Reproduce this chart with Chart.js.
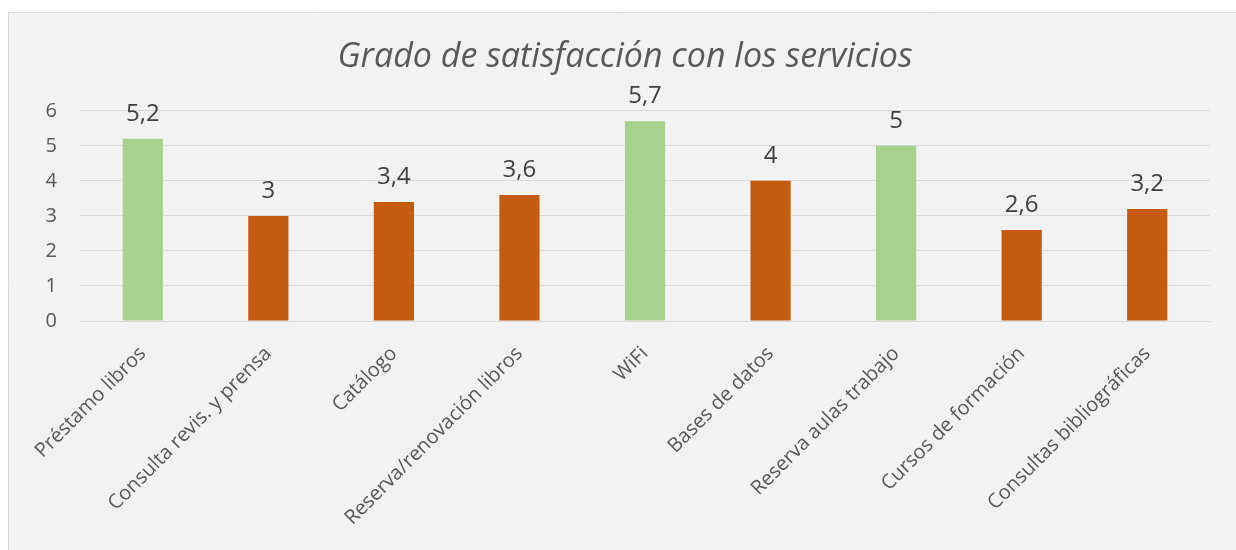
<!DOCTYPE html>
<html>
<head>
<meta charset="utf-8">
<script src="https://cdn.jsdelivr.net/npm/chart.js@4/dist/chart.umd.min.js"></script>
<style>
html,body{margin:0;padding:0;background:#ffffff;}
#wrap{position:relative;width:1236px;height:550px;}
canvas{display:block;}
</style>
</head>
<body>
<div id="wrap"><canvas id="c" width="1236" height="550"></canvas></div>
<script>
const categories = ["Préstamo libros","Consulta revis. y prensa","Catálogo","Reserva/renovación libros","WiFi","Bases de datos","Reserva aulas trabajo","Cursos de formación","Consultas bibliográficas"];
const values = [5.2, 3, 3.4, 3.6, 5.7, 4, 5, 2.6, 3.2];
const barColors = ["#a9d18e","#c55a11","#c55a11","#c55a11","#a9d18e","#c55a11","#a9d18e","#c55a11","#c55a11"];
const yTicks = [0,1,2,3,4,5,6];
const titleText = "Grado de satisfacción con los servicios";

const FONT = "'Open Sans', 'DejaVu Sans', sans-serif";

const frame = {
  id: 'frame',
  beforeDraw(chart) {
    const ctx = chart.ctx;
    ctx.save();
    ctx.fillStyle = '#ffffff';
    ctx.fillRect(0, 0, chart.width, chart.height);
    ctx.fillStyle = '#f2f2f2';
    ctx.fillRect(8, 12, chart.width - 8, chart.height - 12);
    ctx.strokeStyle = '#d9d9d9';
    ctx.lineWidth = 1;
    ctx.beginPath();
    ctx.moveTo(8.5, chart.height);
    ctx.lineTo(8.5, 12.5);
    ctx.lineTo(chart.width, 12.5);
    ctx.stroke();
    ctx.restore();
  }
};

const dataLabels = {
  id: 'dataLabels',
  afterDatasetsDraw(chart) {
    const ctx = chart.ctx;
    const meta = chart.getDatasetMeta(0);
    ctx.save();
    ctx.font = "24px " + FONT;
    ctx.fillStyle = '#404040';
    ctx.textAlign = 'center';
    ctx.textBaseline = 'alphabetic';
    meta.data.forEach((bar, i) => {
      const v = chart.data.datasets[0].data[i];
      ctx.fillText(String(v).replace('.', ','), bar.x, bar.y - 18);
    });
    ctx.restore();
  }
};

new Chart(document.getElementById('c'), {
  type: 'bar',
  data: {
    labels: categories,
    datasets: [{
      data: values,
      backgroundColor: barColors,
      borderWidth: 0,
      barPercentage: 0.32,
      categoryPercentage: 1
    }]
  },
  options: {
    responsive: false,
    animation: false,
    devicePixelRatio: 1,
    layout: { padding: { top: 12, left: 40, right: 26, bottom: 0 } },
    plugins: {
      legend: { display: false },
      tooltip: { enabled: false },
      title: {
        display: true,
        text: titleText,
        color: '#595959',
        font: { family: FONT, size: 34, style: 'italic', weight: 'normal', lineHeight: 1.2 },
        padding: { top: 25, bottom: 33 }
      }
    },
    scales: {
      x: {
        grid: { display: false },
        border: { display: true, color: '#d9d9d9', width: 1 },
        ticks: {
          color: '#595959',
          font: { family: FONT, size: 20 },
          maxRotation: 45,
          minRotation: 45,
          autoSkip: false,
          padding: 13
        },
        afterFit(scale) { scale.height = 229; }
      },
      y: {
        min: 0,
        max: 6,
        afterBuildTicks(scale) { scale.ticks = yTicks.map(v => ({ value: v })); },
        grid: { color: '#d9d9d9', lineWidth: 1, drawTicks: false },
        border: { display: false },
        ticks: {
          color: '#595959',
          font: { family: FONT, size: 20 },
          padding: 23
        },
        afterFit(scale) { scale.width = 40; }
      }
    }
  },
  plugins: [frame, dataLabels]
});
</script>
</body>
</html>
